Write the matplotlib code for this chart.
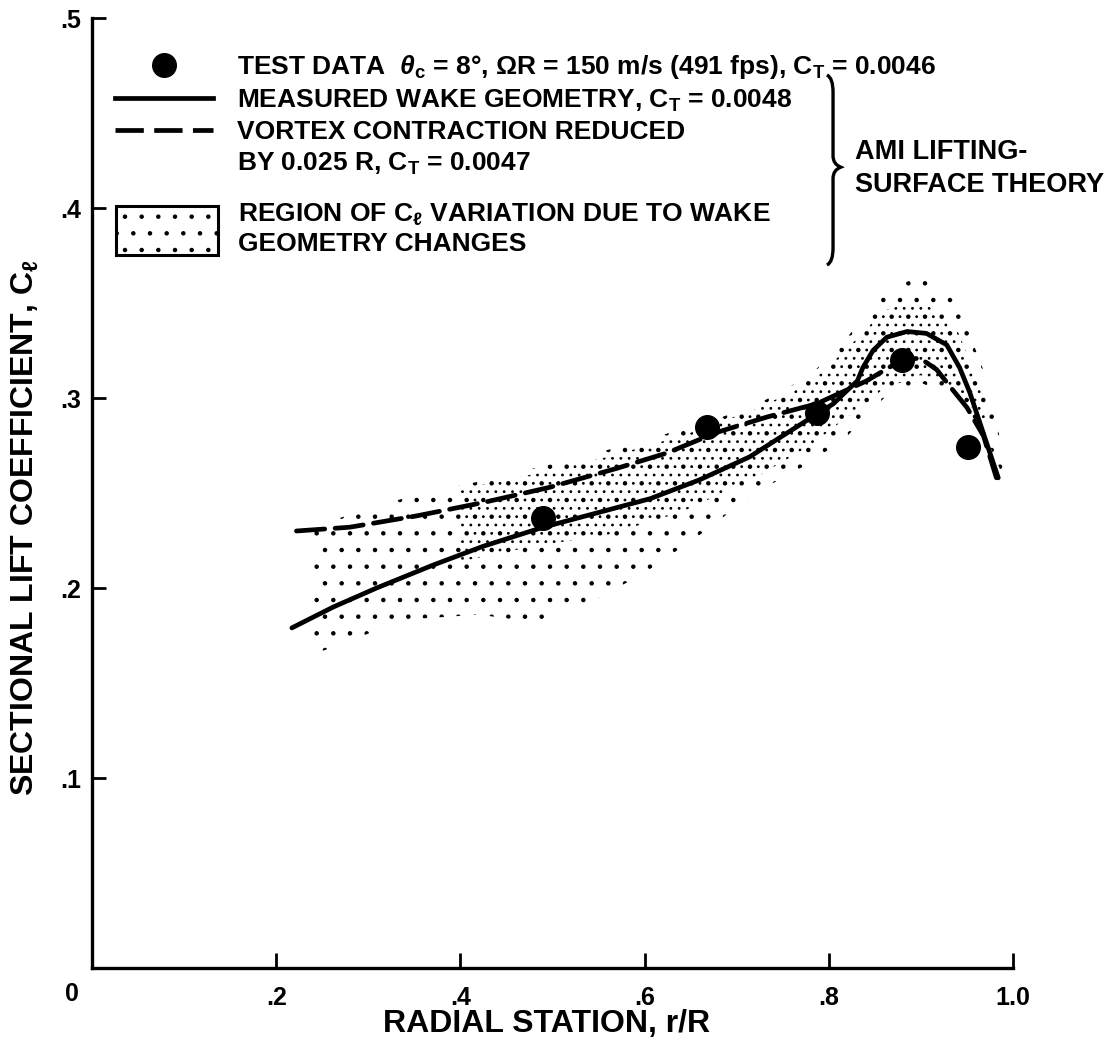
import matplotlib
matplotlib.use("Agg")
import matplotlib.pyplot as plt
from matplotlib.lines import Line2D
from matplotlib.patches import Rectangle, PathPatch
from matplotlib.path import Path

# ---------------- data ----------------
test_r = [0.490, 0.668, 0.787, 0.879, 0.951]
test_cl = [0.237, 0.285, 0.292, 0.320, 0.274]

measured_r = [0.217, 0.262, 0.309, 0.370, 0.425, 0.490, 0.552, 0.606, 0.660,
              0.714, 0.769, 0.805, 0.820, 0.831, 0.837, 0.848, 0.863, 0.885,
              0.906, 0.928, 0.942, 0.953, 0.964, 0.975, 0.984]
measured_cl = [0.179, 0.190, 0.200, 0.212, 0.222, 0.232, 0.240, 0.247, 0.257,
               0.269, 0.286, 0.297, 0.304, 0.309, 0.316, 0.325, 0.332, 0.335,
               0.334, 0.328, 0.316, 0.303, 0.287, 0.271, 0.258]

reduced_r = [0.222, 0.280, 0.353, 0.425, 0.497, 0.570, 0.624, 0.679, 0.733,
             0.787, 0.841, 0.879, 0.899, 0.917, 0.935, 0.950, 0.968, 0.982]
reduced_cl = [0.230, 0.232, 0.238, 0.245, 0.253, 0.263, 0.271, 0.282, 0.290,
              0.297, 0.309, 0.320, 0.321, 0.315, 0.304, 0.295, 0.280, 0.258]

# region of C_l variation (outer, sparse stipple)
band_r = [0.24, 0.30, 0.36, 0.42, 0.48, 0.54, 0.60, 0.66, 0.72, 0.78, 0.82,
          0.86, 0.90, 0.94, 0.97, 0.99]
band_upper = [0.232, 0.242, 0.250, 0.256, 0.263, 0.270, 0.278, 0.286, 0.296,
              0.312, 0.332, 0.355, 0.365, 0.350, 0.312, 0.270]
band_lower = [0.165, 0.176, 0.184, 0.186, 0.182, 0.192, 0.208, 0.228, 0.250,
              0.266, 0.280, 0.300, 0.308, 0.300, 0.280, 0.258]
# denser core of that region
core_r = [0.40, 0.48, 0.56, 0.64, 0.72, 0.78, 0.82, 0.86, 0.90, 0.94, 0.97]
core_upper = [0.252, 0.260, 0.269, 0.280, 0.294, 0.308, 0.326, 0.346, 0.352,
              0.335, 0.300]
core_lower = [0.214, 0.222, 0.228, 0.240, 0.258, 0.275, 0.290, 0.305, 0.312,
              0.305, 0.285]

xticks = [0.2, 0.4, 0.6, 0.8, 1.0]
xticklabels = [".2", ".4", ".6", ".8", "1.0"]
yticks = [0.1, 0.2, 0.3, 0.4, 0.5]
yticklabels = [".1", ".2", ".3", ".4", ".5"]

lab_test = r"TEST DATA  $\theta_\mathrm{c}$ = 8°, ΩR = 150 m/s (491 fps), C$_\mathrm{T}$ = 0.0046"
lab_meas = r"MEASURED WAKE GEOMETRY, C$_\mathrm{T}$ = 0.0048"
lab_red1 = "VORTEX CONTRACTION REDUCED"
lab_red2 = r"BY 0.025 R, C$_\mathrm{T}$ = 0.0047"
lab_region = "REGION OF C$_\\mathrm{ℓ}$ VARIATION DUE TO WAKE\nGEOMETRY CHANGES"
theory_lines = ["AMI LIFTING-", "SURFACE THEORY"]

# ---------------- style ----------------
plt.rcParams["font.family"] = ["Liberation Sans", "DejaVu Sans"]
plt.rcParams["font.weight"] = "bold"
plt.rcParams["mathtext.fontset"] = "custom"
plt.rcParams["mathtext.rm"] = "Liberation Sans:bold"
plt.rcParams["mathtext.it"] = "Liberation Sans:italic:bold"
plt.rcParams["mathtext.bf"] = "Liberation Sans:bold"
plt.rcParams["mathtext.sf"] = "Liberation Sans:bold"
plt.rcParams["hatch.linewidth"] = 0.8
FS = 19
PX = FS * 100 / 72  # legend font size in pixels
TFS = 18

fig = plt.figure(figsize=(11.18, 10.42), dpi=100)
ax = fig.add_axes([92 / 1118, 1 - 968 / 1042, 921 / 1118, 950 / 1042])

# stippled region
ax.fill_between(band_r, band_lower, band_upper, facecolor="none",
                edgecolor="black", linewidth=0, hatch=".", zorder=1)
ax.fill_between(core_r, core_lower, core_upper, facecolor="none",
                edgecolor="black", linewidth=0, hatch="..", zorder=1)

ax.plot(measured_r, measured_cl, color="black", lw=3.4, solid_capstyle="round",
        solid_joinstyle="round", zorder=3)
ax.plot(reduced_r, reduced_cl, color="black", lw=3.4, dashes=(6, 2.2),
        dash_capstyle="round", zorder=3)
ax.plot(test_r, test_cl, ls="none", marker="o", ms=17, color="black", zorder=4)

ax.set_xlim(0, 1.0)
ax.set_ylim(0, 0.5)
for s in ("top", "right"):
    ax.spines[s].set_visible(False)
for s in ("left", "bottom"):
    ax.spines[s].set_linewidth(2.4)
ax.set_xticks(xticks)
ax.set_xticklabels(xticklabels, fontweight="bold", fontsize=TFS)
ax.set_yticks(yticks)
ax.set_yticklabels(yticklabels, fontweight="bold", fontsize=TFS)
ax.tick_params(axis="x", direction="in", length=11, width=2, pad=13)
ax.tick_params(axis="y", direction="in", length=10, width=2, pad=8)
ax.annotate("0", xy=(0, 0), xycoords="axes fraction", xytext=(-20, -26),
            textcoords="offset pixels", ha="center", va="center",
            fontsize=TFS, fontweight="bold")
ax.set_xlabel("RADIAL STATION, r/R", fontsize=23, fontweight="bold")
ax.xaxis.set_label_coords(0.494, -0.043)
ax.set_ylabel("SECTIONAL LIFT COEFFICIENT, C$_\\mathrm{ℓ}$", fontsize=23,
              fontweight="bold")
ax.yaxis.set_label_coords(-0.057, 0.464)

# legend part A
hA = [Line2D([], [], ls="none", marker="o", ms=17, color="black"),
      Line2D([], [], color="black", lw=3.4),
      Line2D([], [], color="black", lw=3.4, dashes=(6, 2.2)),
      Line2D([], [], ls="none")]
legA = ax.legend(hA, [lab_test, lab_meas, lab_red1, lab_red2], loc="upper left",
                 bbox_to_anchor=(0.025, 0.963), frameon=False,
                 prop={"weight": "bold", "size": FS},
                 handlelength=98 / PX, handletextpad=24 / PX,
                 labelspacing=0.24, borderpad=0, borderaxespad=0)
ax.add_artist(legA)
# legend part B
hB = [Rectangle((0, 0), 1, 1, facecolor="white", edgecolor="black", lw=2.2, hatch=".")]
legB = ax.legend(hB, [lab_region], loc="upper left", bbox_to_anchor=(0.026, 0.807),
                 frameon=False, prop={"weight": "bold", "size": FS},
                 handlelength=102 / PX, handleheight=2.5,
                 handletextpad=20 / PX, borderpad=0, borderaxespad=0)
for t in legB.get_texts():
    t.set_linespacing(1.25)

# brace
x0, tip, hook = 0.8046, 0.813, 0.798
yt, ym, yb = 0.937, 0.843, 0.743
verts = [(hook, yt + 0.003), (x0, yt), (x0, yt - 0.015),
         (x0, ym + 0.012), (x0, ym + 0.003), (tip, ym),
         (x0, ym - 0.003), (x0, ym - 0.012),
         (x0, yb + 0.015), (x0, yb), (hook, yb - 0.003)]
codes = [Path.MOVETO, Path.CURVE3, Path.CURVE3,
         Path.LINETO, Path.CURVE3, Path.CURVE3,
         Path.CURVE3, Path.CURVE3,
         Path.LINETO, Path.CURVE3, Path.CURVE3]
ax.add_patch(PathPatch(Path(verts, codes), transform=ax.transAxes, fill=False,
                       lw=2.4, edgecolor="black", clip_on=False))
ax.text(0.828, 0.859, theory_lines[0], transform=ax.transAxes, fontsize=19.5, va="center")
ax.text(0.828, 0.824, theory_lines[1], transform=ax.transAxes, fontsize=19.5, va="center")

fig.savefig("out.png", dpi=100)
